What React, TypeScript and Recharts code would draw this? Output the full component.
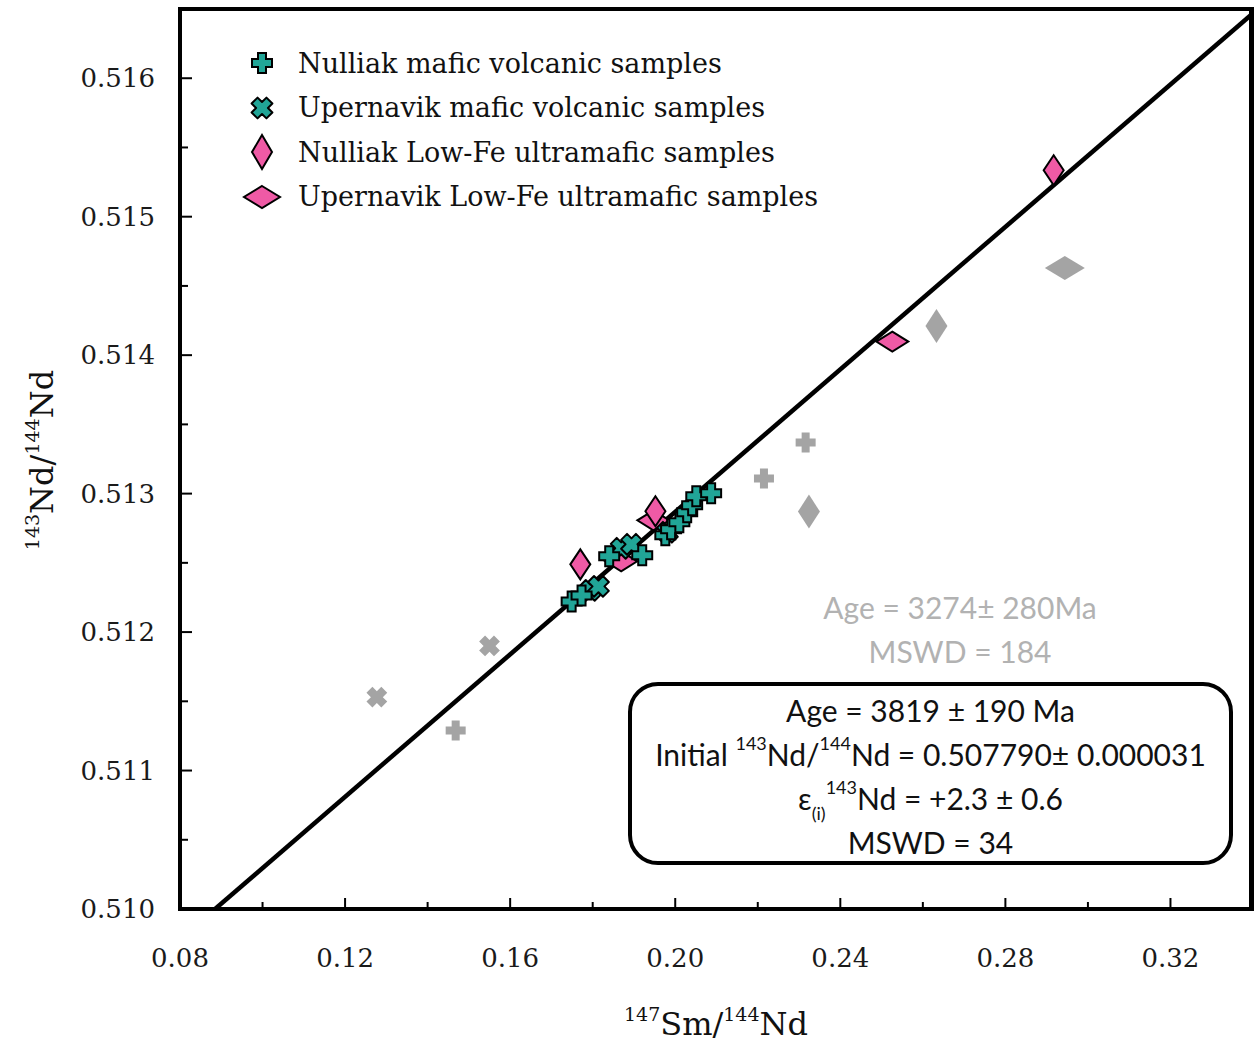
import React from 'react';
import { Legend, Scatter, ScatterChart, XAxis, YAxis } from 'recharts';

type Pt = { x: number; y: number };

// isochron endpoints
const isochron: Pt[] = [
  { x: 0.0885, y: 0.51 },
  { x: 0.34, y: 0.51647 },
];

const nulliakMafic: Pt[] = [
  { x: 0.1749, y: 0.51222 },
  { x: 0.1773, y: 0.512265 },
  { x: 0.184, y: 0.512547 },
  { x: 0.192, y: 0.512554 },
  { x: 0.1976, y: 0.512699 },
  { x: 0.199, y: 0.512742 },
  { x: 0.201, y: 0.512793 },
  { x: 0.2029, y: 0.512865 },
  { x: 0.2041, y: 0.512916 },
  { x: 0.2051, y: 0.512981 },
  { x: 0.2087, y: 0.513003 },
];

const upernavikMafic: Pt[] = [
  { x: 0.1794, y: 0.512301 },
  { x: 0.1814, y: 0.51233 },
  { x: 0.1869, y: 0.512605 },
  { x: 0.1894, y: 0.512634 },
  { x: 0.1981, y: 0.512721 },
];

const nulliakUltramafic: Pt[] = [
  { x: 0.177, y: 0.512489 },
  { x: 0.1952, y: 0.512873 },
  { x: 0.2917, y: 0.515335 },
];

const upernavikUltramafic: Pt[] = [
  { x: 0.1869, y: 0.512511 },
  { x: 0.1947, y: 0.512807 },
  { x: 0.2526, y: 0.514098 },
];

// samples left out of the regression (grey)
const greyNulliakMafic: Pt[] = [
  { x: 0.1468, y: 0.51129 },
  { x: 0.2215, y: 0.51311 },
  { x: 0.2316, y: 0.51337 },
];
const greyUpernavikMafic: Pt[] = [
  { x: 0.1277, y: 0.51153 },
  { x: 0.155, y: 0.5119 },
];
const greyNulliakUltramafic: Pt[] = [
  { x: 0.2324, y: 0.51287 },
  { x: 0.2633, y: 0.51421 },
];
const greyUpernavikUltramafic: Pt[] = [{ x: 0.2944, y: 0.51463 }];

const xTicks = [0.08, 0.1, 0.12, 0.14, 0.16, 0.18, 0.2, 0.22, 0.24, 0.26, 0.28, 0.3, 0.32];
const xLabelTicks = [0.08, 0.12, 0.16, 0.2, 0.24, 0.28, 0.32];
const yTicks = [
  0.51, 0.5105, 0.511, 0.5115, 0.512, 0.5125, 0.513, 0.5135, 0.514, 0.5145, 0.515, 0.5155, 0.516,
];
const yLabelTicks = [0.51, 0.511, 0.512, 0.513, 0.514, 0.515, 0.516];

const legendLabels = [
  'Nulliak mafic volcanic samples',
  'Upernavik mafic volcanic samples',
  'Nulliak Low-Fe ultramafic samples',
  'Upernavik Low-Fe ultramafic samples',
];

const TEAL = '#21a597';
const PINK = '#ef5aa5';
const GREY = '#a4a4a4';
const SERIF = '"DejaVu Serif", serif';
const SANS = 'Lato, sans-serif';

const W = 1254;
const H = 1044;
const LEFT = 180;
const TOP = 9;
const BOTTOM = 909;

const isIn = (list: number[], v: number) => list.some((t) => Math.abs(t - v) < 1e-9);

function plusPath(cx: number, cy: number, r: number, t: number) {
  return `M${cx - t},${cy - r}H${cx + t}V${cy - t}H${cx + r}V${cy + t}H${cx + t}V${cy + r}H${cx - t}V${cy + t}H${cx - r}V${cy - t}H${cx - t}Z`;
}

function Plus({ cx, cy, fill, stroke }: any) {
  return <path d={plusPath(cx, cy, 10, 4)} fill={fill} stroke={stroke} strokeWidth={stroke ? 2 : 0} />;
}

function Cross({ cx, cy, fill, stroke }: any) {
  return (
    <path
      d={plusPath(cx, cy, 10.5, 4.2)}
      transform={`rotate(45 ${cx} ${cy})`}
      fill={fill}
      stroke={stroke}
      strokeWidth={stroke ? 2 : 0}
      strokeLinejoin="round"
    />
  );
}

function Diamond({ cx, cy, w, h, fill, stroke }: any) {
  return (
    <path
      d={`M${cx},${cy - h}L${cx + w},${cy}L${cx},${cy + h}L${cx - w},${cy}Z`}
      fill={fill}
      stroke={stroke}
      strokeWidth={stroke ? 2 : 0}
    />
  );
}

const legendMarkers = [
  (cx: number, cy: number) => <Plus cx={cx} cy={cy} fill={TEAL} stroke="#000" />,
  (cx: number, cy: number) => <Cross cx={cx} cy={cy} fill={TEAL} stroke="#000" />,
  (cx: number, cy: number) => <Diamond cx={cx} cy={cy} w={10} h={17} fill={PINK} stroke="#000" />,
  (cx: number, cy: number) => <Diamond cx={cx} cy={cy} w={18} h={11} fill={PINK} stroke="#000" />,
];

function LegendBox() {
  return (
    <div style={{ fontFamily: SERIF, fontSize: 27, color: '#111' }}>
      {legendLabels.map((label, i) => (
        <div key={label} style={{ display: 'flex', alignItems: 'center', height: 44.5 }}>
          <svg width={44} height={44} style={{ marginRight: 14 }}>
            {legendMarkers[i](22, 22)}
          </svg>
          <span style={{ whiteSpace: 'nowrap' }}>{label}</span>
        </div>
      ))}
    </div>
  );
}

function XTick(props: any) {
  const { x, payload } = props;
  const major = isIn(xLabelTicks, payload.value);
  return (
    <g>
      <line x1={x} x2={x} y1={BOTTOM} y2={BOTTOM - (major ? 11 : 7)} stroke="#000" strokeWidth={2} />
      {major && (
        <text x={x} y={967} textAnchor="middle" fontFamily={SERIF} fontSize={26} fill="#1a1a1a">
          {payload.value.toFixed(2)}
        </text>
      )}
    </g>
  );
}

function YTick(props: any) {
  const { y, payload } = props;
  const major = isIn(yLabelTicks, payload.value);
  return (
    <g>
      <line x1={LEFT} x2={LEFT + (major ? 12 : 8)} y1={y} y2={y} stroke="#000" strokeWidth={2} />
      {major && (
        <text x={155} y={y + 9} textAnchor="end" fontFamily={SERIF} fontSize={26} fill="#1a1a1a">
          {payload.value.toFixed(3)}
        </text>
      )}
    </g>
  );
}

const XTitle = () => (
  <text x={716} y={1035} textAnchor="middle" fontFamily={SERIF} fontSize={32} fill="#111">
    <tspan fontSize={19} dy={-14}>147</tspan>
    <tspan dy={14}>Sm/</tspan>
    <tspan fontSize={19} dy={-14}>144</tspan>
    <tspan dy={14}>Nd</tspan>
  </text>
);

const YTitle = () => (
  <text
    transform={`translate(53,460) rotate(-90)`}
    textAnchor="middle"
    fontFamily={SERIF}
    fontSize={32}
    fill="#111"
  >
    <tspan fontSize={19} dy={-14}>143</tspan>
    <tspan dy={14}>Nd/</tspan>
    <tspan fontSize={19} dy={-14}>144</tspan>
    <tspan dy={14}>Nd</tspan>
  </text>
);

const noShape = () => <g />;

const frameLine = { stroke: '#000', strokeWidth: 4, strokeLinecap: 'square' as const };

export default function App() {
  const sup = { fontSize: 18, lineHeight: 0, verticalAlign: 'top', position: 'relative' as const, top: 11 };
  const row = { height: 44, lineHeight: '44px', whiteSpace: 'nowrap' as const };
  return (
    <div style={{ position: 'absolute', left: 0, top: 0, width: W, height: H, background: '#fff' }}>
      <ScatterChart width={W} height={H} margin={{ top: TOP - 2, right: 0, bottom: 0, left: 0 }}>
        <XAxis
          type="number"
          dataKey="x"
          domain={[0.08, 0.34]}
          allowDataOverflow
          ticks={xTicks}
          interval={0}
          height={H - BOTTOM}
          tickLine={false}
          tick={<XTick />}
          axisLine={frameLine}
          label={{ content: () => <XTitle /> }}
        />
        <XAxis
          xAxisId="top"
          orientation="top"
          type="number"
          domain={[0.08, 0.34]}
          height={2}
          tick={false}
          tickLine={false}
          axisLine={frameLine}
        />
        <YAxis
          type="number"
          dataKey="y"
          domain={[0.51, 0.5165]}
          allowDataOverflow
          ticks={yTicks}
          interval={0}
          width={LEFT}
          tickLine={false}
          tick={<YTick />}
          axisLine={frameLine}
          label={{ content: () => <YTitle /> }}
        />
        <YAxis
          yAxisId="right"
          orientation="right"
          type="number"
          domain={[0.51, 0.5165]}
          width={1}
          tick={false}
          tickLine={false}
          axisLine={{ stroke: '#000', strokeWidth: 8 }}
        />
        <Legend
          layout="vertical"
          align="center"
          verticalAlign="middle"
          content={() => <LegendBox />}
          wrapperStyle={{ left: 240, top: 41, width: 640, height: 180 }}
        />
        <Scatter
          name="isochron"
          data={isochron}
          line={{ stroke: '#000', strokeWidth: 4.5 }}
          shape={noShape}
          legendType="none"
          isAnimationActive={false}
        />
        <Scatter data={greyNulliakMafic} shape={(p: any) => <Plus cx={p.cx} cy={p.cy} fill={GREY} />} legendType="none" isAnimationActive={false} />
        <Scatter data={greyUpernavikMafic} shape={(p: any) => <Cross cx={p.cx} cy={p.cy} fill={GREY} />} legendType="none" isAnimationActive={false} />
        <Scatter data={greyNulliakUltramafic} shape={(p: any) => <Diamond cx={p.cx} cy={p.cy} w={11} h={17} fill={GREY} />} legendType="none" isAnimationActive={false} />
        <Scatter data={greyUpernavikUltramafic} shape={(p: any) => <Diamond cx={p.cx} cy={p.cy} w={20} h={12} fill={GREY} />} legendType="none" isAnimationActive={false} />
        <Scatter name={legendLabels[3]} data={upernavikUltramafic} shape={(p: any) => <Diamond cx={p.cx} cy={p.cy} w={16} h={10} fill={PINK} stroke="#000" />} isAnimationActive={false} />
        <Scatter name={legendLabels[2]} data={nulliakUltramafic} shape={(p: any) => <Diamond cx={p.cx} cy={p.cy} w={10} h={15} fill={PINK} stroke="#000" />} isAnimationActive={false} />
        <Scatter name={legendLabels[1]} data={upernavikMafic} shape={(p: any) => <Cross cx={p.cx} cy={p.cy} fill={TEAL} stroke="#000" />} isAnimationActive={false} />
        <Scatter name={legendLabels[0]} data={nulliakMafic} shape={(p: any) => <Plus cx={p.cx} cy={p.cy} fill={TEAL} stroke="#000" />} isAnimationActive={false} />
      </ScatterChart>

      <div
        style={{
          position: 'absolute',
          left: 760,
          top: 585,
          width: 400,
          textAlign: 'center',
          fontFamily: SANS,
          fontSize: 30,
          color: '#b2b2b2',
        }}
      >
        <div style={row}>Age = 3274± 280Ma</div>
        <div style={row}>MSWD = 184</div>
      </div>

      <div
        style={{
          position: 'absolute',
          left: 628,
          top: 682,
          width: 605,
          height: 183,
          boxSizing: 'border-box',
          border: '4px solid #000',
          borderRadius: 30,
          paddingTop: 2,
          textAlign: 'center',
          fontFamily: SANS,
          fontSize: 30,
          color: '#111',
        }}
      >
        <div style={row}>Age = 3819 ± 190 Ma</div>
        <div style={row}>
          Initial <span style={sup}>143</span>Nd/<span style={sup}>144</span>Nd = 0.507790± 0.000031
        </div>
        <div style={row}>
          ε<span style={{ fontSize: 18, lineHeight: 0, position: 'relative', top: 10 }}>(i)</span>
          <span style={sup}>143</span>Nd = +2.3 ± 0.6
        </div>
        <div style={row}>MSWD = 34</div>
      </div>
    </div>
  );
}
